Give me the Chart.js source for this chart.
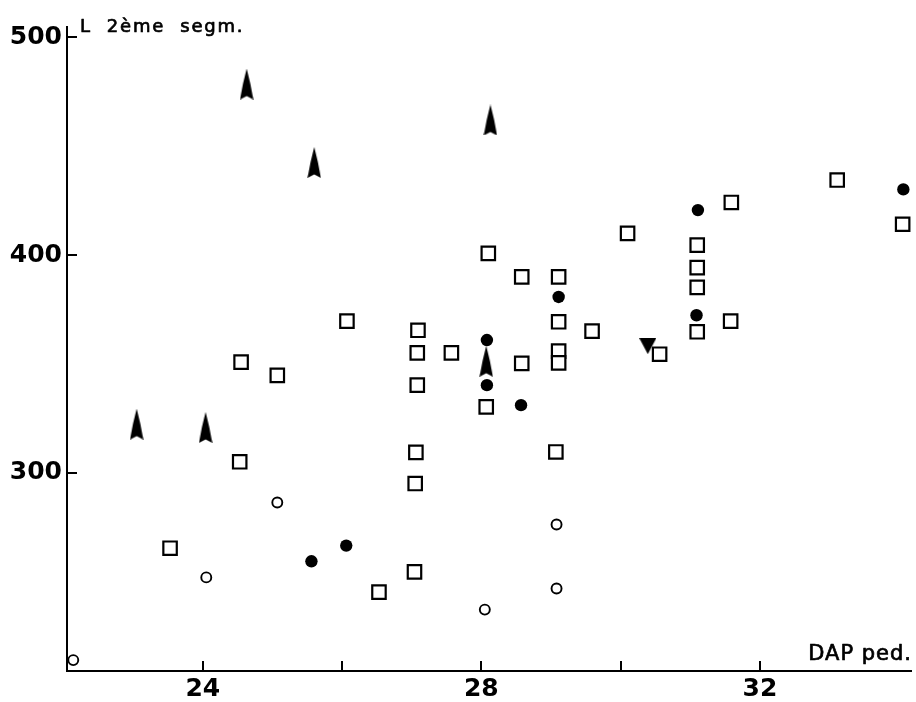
<!DOCTYPE html>
<html><head><meta charset="utf-8">
<script src="https://cdn.jsdelivr.net/npm/chart.js@4"></script>
<style>html,body{margin:0;padding:0;background:#fff}canvas{display:block}</style>
</head><body>
<canvas id="c" width="916" height="702"></canvas>
<script>
// ---- data (DAP ped. , L 2ème segm.) ----
const squareX = [23.53, 24.53, 24.55, 25.07, 26.07, 26.53, 27.04, 27.05, 27.06, 27.09, 27.08, 27.08, 27.57, 28.10, 28.58, 29.11, 29.11, 29.59, 29.11, 29.11, 28.58, 28.07, 30.56, 30.10, 29.07, 33.11, 31.59, 31.10, 31.10, 31.10, 31.10, 31.58, 34.05];
const squareY = [265.4, 305.1, 350.9, 344.8, 369.7, 245.2, 254.5, 295.1, 309.4, 365.5, 355.1, 340.3, 355.1, 400.8, 390.0, 390.0, 369.4, 365.1, 355.9, 350.5, 350.3, 330.3, 354.5, 410.0, 309.6, 434.5, 424.2, 404.6, 394.3, 385.2, 364.8, 369.7, 414.2];

const filledX = [25.56, 26.06, 28.08, 28.08, 29.11, 28.57, 31.11, 31.09, 34.06];
const filledY = [259.4, 266.6, 361.0, 340.3, 380.8, 331.1, 420.7, 372.4, 430.2];

const openX = [22.14, 24.05, 25.07, 28.05, 29.08, 29.08];
const openY = [214.0, 252.0, 286.4, 237.2, 276.3, 246.9];

const arrowX = [23.05, 24.04, 24.63, 25.60, 28.13, 28.07, 31.15];
const arrowY = [322.4, 320.9, 478.6, 442.6, 462.1, 351.3, 510.8];

const triangleX = [30.39];
const triangleY = [358.2];

const xTickValues = [24, 26, 28, 30, 32];
const xTickLabels = ['24', '', '28', '', '32'];
const yTickValues = [300, 400, 500];
const yTickLabels = ['300', '400', '500'];

const xTitle = 'DAP ped.';
const yTitle = 'L  2ème  segm.';

// ---- helpers ----
const pts = (xs, ys) => xs.map((x, i) => ({x, y: ys[i]}));

function arrowImage() {
  const c = document.createElement('canvas');
  c.width = 14; c.height = 31;
  const g = c.getContext('2d');
  g.fillStyle = '#000';
  g.beginPath();
  g.moveTo(7, 0);
  g.quadraticCurveTo(10.8, 14, 13.7, 31);
  g.lineTo(7, 27.5);
  g.lineTo(0.3, 31);
  g.quadraticCurveTo(3.2, 14, 7, 0);
  g.closePath();
  g.fill();
  return c;
}
function triangleImage() {
  const c = document.createElement('canvas');
  c.width = 17; c.height = 16;
  const g = c.getContext('2d');
  g.fillStyle = '#000';
  g.beginPath();
  g.moveTo(0, 0); g.lineTo(17, 0); g.lineTo(8.5, 16); g.closePath();
  g.fill();
  return c;
}

const tickPlugin = {
  id: 'insideTicks',
  afterDraw(chart) {
    const ctx = chart.ctx;
    const xs = chart.scales.x, ys = chart.scales.y;
    const a = chart.chartArea;
    ctx.save();
    ctx.strokeStyle = '#000';
    ctx.lineWidth = 2;
    xTickValues.forEach(v => {
      const px = Math.round(xs.getPixelForValue(v));
      ctx.beginPath(); ctx.moveTo(px, a.bottom); ctx.lineTo(px, a.bottom - 10); ctx.stroke();
    });
    yTickValues.forEach(v => {
      const py = Math.round(ys.getPixelForValue(v));
      ctx.beginPath(); ctx.moveTo(a.left, py); ctx.lineTo(a.left + 10, py); ctx.stroke();
    });
    ctx.fillStyle = '#000';
    ctx.lineWidth = 0.7;
    ctx.lineJoin = 'round';
    ctx.textBaseline = 'alphabetic';
    ctx.font = '18px "DejaVu Sans"';
    try { ctx.letterSpacing = '1.8px'; } catch (e) {}
    ctx.textAlign = 'left';
    ctx.fillText(yTitle, a.left + 13, a.top + 5);
    ctx.strokeText(yTitle, a.left + 13, a.top + 5);
    try { ctx.letterSpacing = '1px'; } catch (e) {}
    ctx.font = '21px "DejaVu Sans"';
    ctx.textAlign = 'right';
    ctx.fillText(xTitle, a.right + 1, a.bottom - 11);
    ctx.strokeText(xTitle, a.right + 1, a.bottom - 11);
    ctx.restore();
  }
};

const base = {showLine: false, clip: false};

new Chart(document.getElementById('c'), {
  type: 'scatter',
  data: {
    datasets: [
      Object.assign({label: 'carrés', data: pts(squareX, squareY), pointStyle: 'rect', pointRadius: 9.5,
        pointBorderWidth: 2.2, pointBorderColor: '#000', pointBackgroundColor: '#fff'}, base),
      Object.assign({label: 'cercles vides', data: pts(openX, openY), pointStyle: 'circle', pointRadius: 5,
        pointBorderWidth: 1.9, pointBorderColor: '#000', pointBackgroundColor: '#fff'}, base),
      Object.assign({label: 'cercles pleins', data: pts(filledX, filledY), pointStyle: 'circle', pointRadius: 6.2,
        pointBorderWidth: 0, pointBorderColor: '#000', pointBackgroundColor: '#000'}, base),
      Object.assign({label: 'triangle', data: pts(triangleX, triangleY), pointStyle: triangleImage()}, base),
      Object.assign({label: 'flèches', data: pts(arrowX, arrowY), pointStyle: arrowImage()}, base)
    ]
  },
  options: {
    responsive: false,
    animation: false,
    events: [],
    layout: {autoPadding: false, padding: {left: 0, top: 27, right: 5, bottom: 0}},
    plugins: {legend: {display: false}, tooltip: {enabled: false}},
    scales: {
      x: {
        type: 'linear', min: 22.05, max: 34.17,
        afterBuildTicks: s => { s.ticks = xTickValues.map(v => ({value: v})); },
        afterFit: s => { s.height = 31; },
        grid: {drawOnChartArea: false, drawTicks: false},
        border: {display: true, color: '#000', width: 2},
        ticks: {
          padding: 3, color: '#000', maxRotation: 0, autoSkip: false,
          font: {family: '"DejaVu Sans"', size: 25, weight: 'bold'},
          callback: (v) => { const i = xTickValues.indexOf(v); return i >= 0 ? xTickLabels[i] : ''; }
        }
      },
      y: {
        type: 'linear', min: 209, max: 504.8,
        afterBuildTicks: s => { s.ticks = yTickValues.map(v => ({value: v})); },
        afterFit: s => { s.width = 67; },
        grid: {drawOnChartArea: false, drawTicks: false},
        border: {display: true, color: '#000', width: 2},
        ticks: {
          padding: 5, color: '#000', autoSkip: false,
          font: {family: '"DejaVu Sans"', size: 25, weight: 'bold'},
          callback: (v) => { const i = yTickValues.indexOf(v); return i >= 0 ? yTickLabels[i] : ''; }
        }
      }
    }
  },
  plugins: [tickPlugin]
});
</script>
</body></html>
